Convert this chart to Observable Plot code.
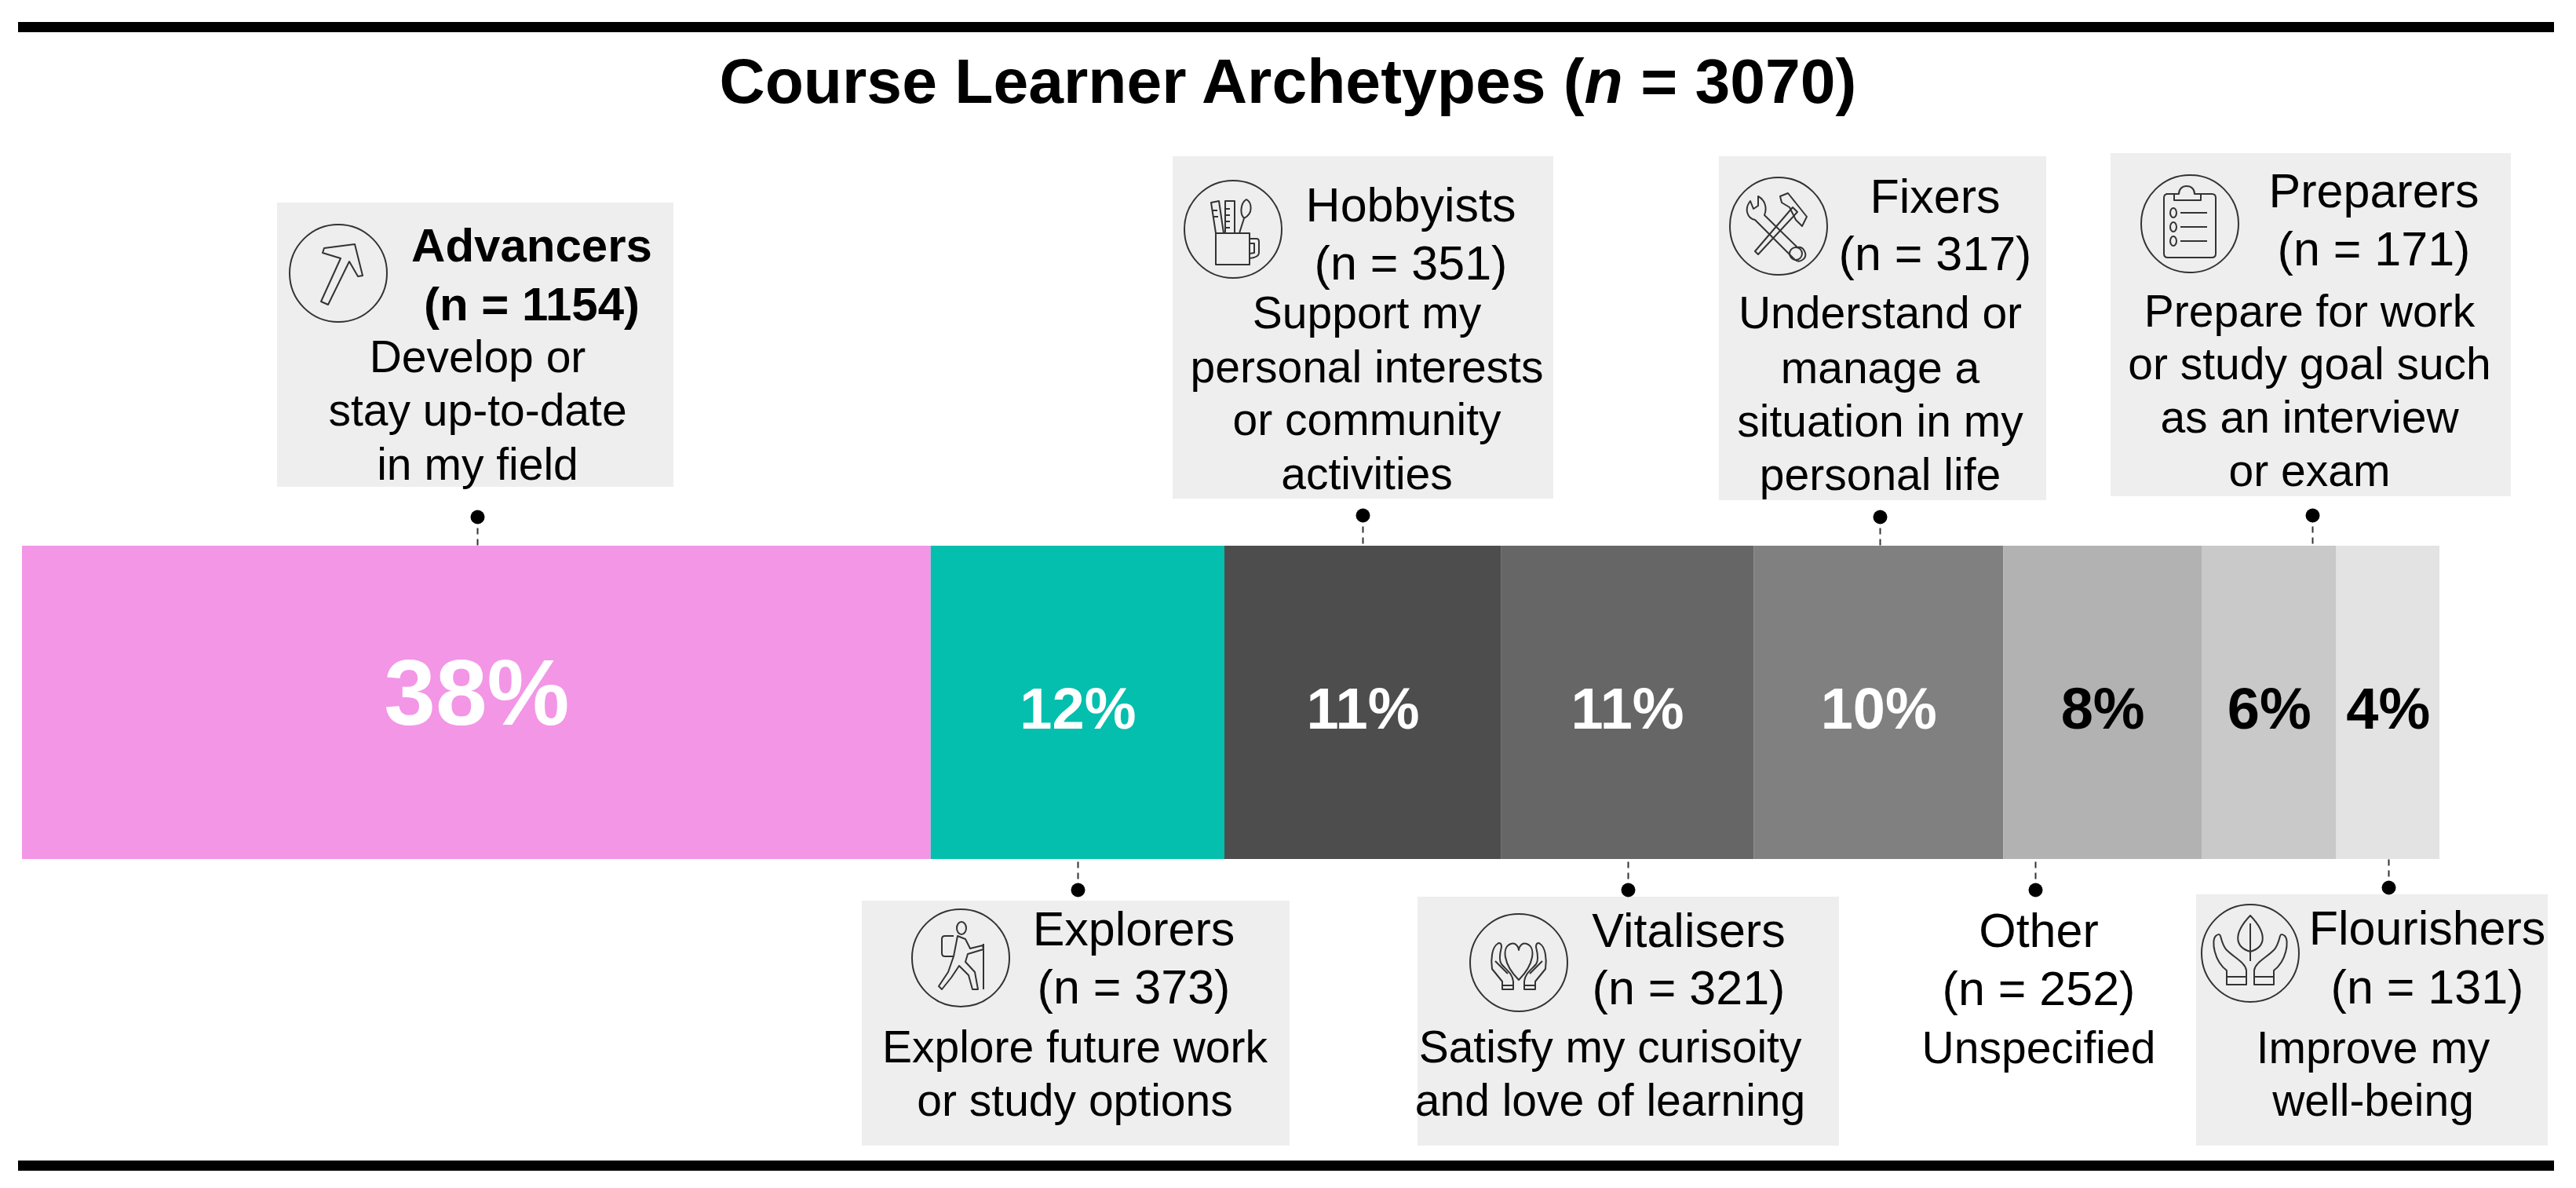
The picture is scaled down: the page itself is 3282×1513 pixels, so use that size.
<!DOCTYPE html>
<html>
<head>
<meta charset="utf-8">
<script src="https://cdn.jsdelivr.net/npm/d3@7"></script>
<script src="https://cdn.jsdelivr.net/npm/@observablehq/plot@0.6"></script>
<style>
  html, body { margin: 0; padding: 0; background: #fff; }
  #page { position: relative; width: 3282px; height: 1513px; overflow: hidden; font-family: "Liberation Sans", Arial, sans-serif; }
  .rule { position: absolute; left: 23px; width: 3231px; height: 13px; background: #000; }
  #title { position: absolute; left: 0; top: 48px; width: 3282px; text-align: center; font-weight: bold; font-size: 80.5px; line-height: 110px; color: #000; }
  #chart { position: absolute; left: 0; top: 180px; }
</style>
</head>
<body>
<div id="page">
  <div class="rule" style="top:28px"></div>
  <div id="title">Course Learner Archetypes (<i>n</i> = 3070)</div>
  <div id="chart"></div>
  <div class="rule" style="top:1478px"></div>
</div>
<script>
// ---- data ----
const categories = ["Advancers","Explorers","Hobbyists","Vitalisers","Fixers","Other","Preparers","Flourishers"];
const counts = [1154,373,351,321,317,252,171,131];
const percents = ["38%","12%","11%","11%","10%","8%","6%","4%"];
const descriptions = [
  ["Develop or","stay up-to-date","in my field"],
  ["Explore future work","or study options"],
  ["Support my","personal interests","or community","activities"],
  ["Satisfy my curisoity","and love of learning"],
  ["Understand or","manage a","situation in my","personal life"],
  ["Unspecified"],
  ["Prepare for work","or study goal such","as an interview","or exam"],
  ["Improve my","well-being"]
];

// ---- styles ----
const barColors = ["#F396E6","#04BFAD","#4D4D4D","#666666","#808080","#B2B2B2","#C9C9C9","#E3E3E3"];
const percentColors = ["#fff","#fff","#fff","#fff","#fff","#000","#000","#000"];
const fontFamily = "Liberation Sans";

// ---- annotation layout, in page pixels ----
const pageWidth = 3282, barLeft = 28, barRight = 3108, barTop = 695, barBottom = 1094;
const boxes = [[353,858,258,620],[1098,1643,1147,1459],[1494,1979,199,635],[1806,2343,1142,1459],[2190,2607,199,637],null,[2689,3199,195,632],[2798,3246,1139,1459]];
const leaderX = [608,1373,1736,2074,2395,2593,2946,3043];
const dotY = [658,1133,656,1133,658,1133,656,1130];
const percentY = [885,904,904,904,904,904,904,904];
const percentSize = [118,74,74,74,74,74,74,74];
const headX = [677,1444,1797,2151,2465,2597,3024,3092];
const headY = [[332,407],[1203,1277],[281,355],[1205,1278],[270,343],[1205,1279],[263,337],[1202,1277]];
const descX = [608,1369,1741,2051,2395,2597,2942,3023];
const descY = [[473,541,610],[1352,1420],[417,486,553,622],[1352,1420],[417,487,555,623],[1353],[415,482,550,618],[1353,1420]];
const iconAt = [[431,348],[1224,1220],[1571,292],[1935,1226],[2266,288],null,[2790,285],[2867,1214]];

const heartHandL = "M-27 -24C-34 -20 -36 -4 -34 8L-21 24V34H-7V24C-8 14 -15 10 -22 2C-25 -2 -24 -12 -22 -20C-22 -25 -25 -26 -27 -24ZM-21 29H-7M-30 -2L-14 14";
const icons = [
  // Advancers: arrow
  ["M-22 36L3 -19L-20 -26L-18 -32L21 -37L31 3L25 4L14 -15L-13 40Z"],
  // Explorers: hiker
  ["M-4 -28L6 -24L12 -12L28 -16L29 -11L9 -5L6 5L18 18L22 40L15 40L10 22L-2 10L-12 25L-24 40L-28 36L-16 18L-9 -2Z","M1 -38m-6 0a6 8 0 1 0 12 0a6 8 0 1 0 -12 0","M-9 -28H-20C-23 -28 -24 -26 -24 -24V-6C-24 -3 -22 -2 -20 -2H-9","M29 -18V40"],
  // Hobbyists: mug of pens
  ["M-22 5H21V45H-22ZM21 12H30C32 12 33 14 33 16V30C33 33 30 36 21 37M21 18H27V30L21 31",
   "M-22 5L-28 -34L-18 -36L-12 5M-10 5V-36H2V5M-10 -26H-4M-10 -18H-4M-10 -10H-4M-10 -2H-4M8 5L14 -14M14 -14C8 -20 10 -34 17 -38C24 -34 26 -20 14 -14ZM-26 -24H-20M-25 -16H-19"],
  // Vitalisers: heart in hands
  ["M0 22C-20 2 -22 -20 -10 -24C-4 -26 0 -20 0 -16C0 -20 4 -26 10 -24C22 -20 20 2 0 22Z", heartHandL, "MIRROR"],
  // Fixers: wrench and hammer
  ["M-36 -32C-44 -22 -40 -10 -30 -8L20 42C26 48 36 42 34 34C32 28 28 26 24 27L-18 -14C-14 -24 -18 -34 -26 -38L-26 -26L-32 -22Z","M22 35m-8 0a8 8 0 1 0 16 0a8 8 0 1 0 -16 0","M-26 36L-30 32L18 -24L24 -18ZM2 -38L12 -42L36 -12L30 0L22 -8L14 -24L4 -30Z"],
  null,
  // Preparers: clipboard
  ["M-30 -38H-14C-14 -44 -10 -48 -4 -48C2 -48 6 -44 6 -38H28C31 -38 33 -36 33 -33V38C33 41 31 43 28 43H-28C-31 43 -33 41 -33 38V-33C-33 -36 -31 -38 -28 -38Z","M-20 -38V-30H14V-38",
   "M-21 -14m-4 0a4 6 0 1 0 8 0a4 6 0 1 0 -8 0M-21 4m-4 0a4 6 0 1 0 8 0a4 6 0 1 0 -8 0M-21 22m-4 0a4 6 0 1 0 8 0a4 6 0 1 0 -8 0","M-12 -14H22M-12 4H22M-12 22H22"],
  // Flourishers: leaf in hands
  ["M0 -48C-22 -25 -20 -8 0 -2C20 -8 22 -25 0 -48ZM0 -38V10","M-44 -22C-50 -16 -46 10 -30 22V40H-5V22C-6 12 -20 6 -30 -4C-34 -8 -36 -14 -38 -22C-39 -25 -42 -24 -44 -22ZM-30 30H-5","MIRROR"]
];

// ---- tables built from the arrays ----
let cum = 0;
const rows = categories.map((name, i) => {
  const start = cum; cum += counts[i];
  return {name, count: counts[i], start, end: cum, mid: (start + cum) / 2, percent: percents[i], fill: barColors[i], ink: percentColors[i]};
});
const k = (barRight - barLeft) / d3.sum(counts);
const u = px => (px - barLeft) / k;

const headLines = categories.flatMap((name, i) => [
  {text: name, x: u(headX[i]), y: headY[i][0], bold: i === 0},
  {text: `(n = ${counts[i]})`, x: u(headX[i]), y: headY[i][1], bold: i === 0}
]);
const descLines = descriptions.flatMap((lines, i) => lines.map((text, j) => ({text, x: u(descX[i]), y: descY[i][j]})));
const boxRows = boxes.filter(Boolean).map(b => ({x1: u(b[0]), x2: u(b[1]), y1: b[2], y2: b[3]}));
const leaders = categories.map((name, i) => ({
  x: u(leaderX[i]), y: dotY[i],
  edge: dotY[i] < barTop ? barTop : barBottom - (name === "Flourishers" ? 3 : 0)
}));
const percentRows = rows.map((r, i) => ({...r, y: percentY[i], size: percentSize[i]}));
const iconRows = iconAt.map((p, i) => p && {x: u(p[0]), y: p[1], paths: icons[i]}).filter(Boolean);

function iconMark(index, {x, y}) {
  const svg = d3.create("svg:g").attr("fill", "none").attr("stroke", "#333").attr("stroke-width", 2).attr("stroke-linejoin", "round");
  for (const d of iconRows) {
    const g = svg.append("g").attr("transform", `translate(${x(d.x)},${y(d.y)})`);
    g.append("circle").attr("r", 62);
    let previous = [];
    for (const p of d.paths) {
      if (p === "MIRROR") {
        g.append("g").attr("transform", "scale(-1,1)").selectAll("path").data(previous).join("path").attr("d", e => e);
      } else {
        g.append("path").attr("d", p);
        previous = [p];
      }
    }
  }
  return svg.node();
}

const chart = Plot.plot({
  width: pageWidth,
  height: 1290,
  margin: 0,
  style: {background: "transparent", fontFamily},
  x: {domain: [u(0), u(pageWidth)], range: [0, pageWidth], axis: null},
  y: {domain: [180, 1470], range: [0, 1290], axis: null},
  marks: [
    Plot.rect(rows, {x1: "start", x2: "end", y1: () => barTop, y2: () => barBottom, fill: "fill"}),
    Plot.rect(boxRows, {x1: "x1", x2: "x2", y1: "y1", y2: "y2", fill: "#EEEEEE"}),
    Plot.link(leaders, {x1: "x", x2: "x", y1: "y", y2: "edge", stroke: "#333", strokeWidth: 2, strokeDasharray: "8,6"}),
    Plot.dot(leaders, {x: "x", y: "y", r: 9, fill: "#000"}),
    iconMark,
    Plot.text(headLines.filter(d => d.bold), {x: "x", y: "y", text: "text", lineAnchor: "bottom", fontSize: 60, fontWeight: "bold", fill: "#000"}),
    Plot.text(headLines.filter(d => !d.bold), {x: "x", y: "y", text: "text", lineAnchor: "bottom", fontSize: 61, fill: "#000"}),
    Plot.text(descLines, {x: "x", y: "y", text: "text", lineAnchor: "bottom", fontSize: 57, fill: "#000"}),
    Plot.text(percentRows, {x: "mid", y: "y", text: "percent", fontSize: "size", fontWeight: "bold", fill: "ink", lineAnchor: "middle"})
  ]
});
document.getElementById("chart").append(chart);
</script>
</body>
</html>
